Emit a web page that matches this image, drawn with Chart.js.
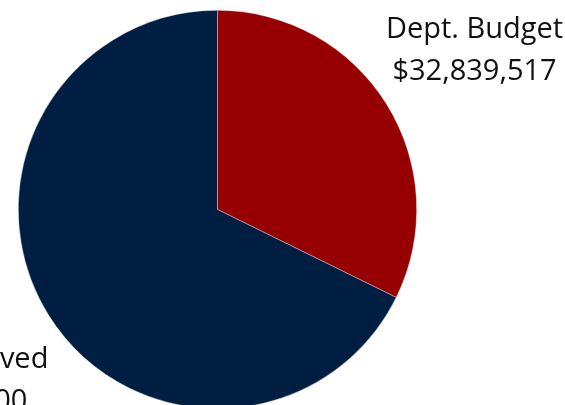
<!DOCTYPE html>
<html>
<head>
<meta charset="utf-8">
<script src="https://cdn.jsdelivr.net/npm/chart.js@4"></script>
<style>
  html, body { margin: 0; padding: 0; background: #fff; overflow: hidden; }
  #wrap { position: relative; width: 565px; height: 420px; }
</style>
</head>
<body>
<div id="wrap"><canvas id="budgetPie"></canvas></div>
<script>
// Données
const labels = ['Dept. Budget', 'Total Approved'];
const amounts = [32839517, 68900000];
const amountLabels = ['$32,839,517', '$68,900,000'];
const sliceColors = ['#960000', '#001e41'];

// Étiquettes extérieures (texte sur deux lignes)
const outsideLabels = {
    id: 'outsideLabels',
    afterDatasetsDraw(chart) {
        const ctx = chart.ctx;
        const dist = [1.52, 1.61];
        ctx.save();
        ctx.font = '29px "Open Sans"';
        ctx.fillStyle = '#111';
        ctx.textAlign = 'center';
        ctx.textBaseline = 'alphabetic';
        chart.getDatasetMeta(0).data.forEach((arc, i) => {
            const mid = (arc.startAngle + arc.endAngle) / 2;
            const r = arc.outerRadius * dist[i];
            const x = arc.x + Math.cos(mid) * r;
            const y = arc.y + Math.sin(mid) * r;
            ctx.fillText(labels[i], x, y - 11);
            ctx.fillText(amountLabels[i], x, y + 31);
        });
        ctx.restore();
    }
};

new Chart(document.getElementById('budgetPie'), {
    type: 'pie',
    data: {
        labels: labels,
        datasets: [{
            data: amounts,
            backgroundColor: sliceColors,
            borderColor: 'rgba(255,255,255,0.6)',
            borderWidth: 0.6
        }]
    },
    options: {
        responsive: true,
        maintainAspectRatio: false,
        animation: false,
        layout: { padding: { top: 10, bottom: 11, left: 18, right: 148 } },
        plugins: {
            legend: { display: false },
            tooltip: { enabled: false }
        }
    },
    plugins: [outsideLabels]
});
</script>
</body>
</html>
